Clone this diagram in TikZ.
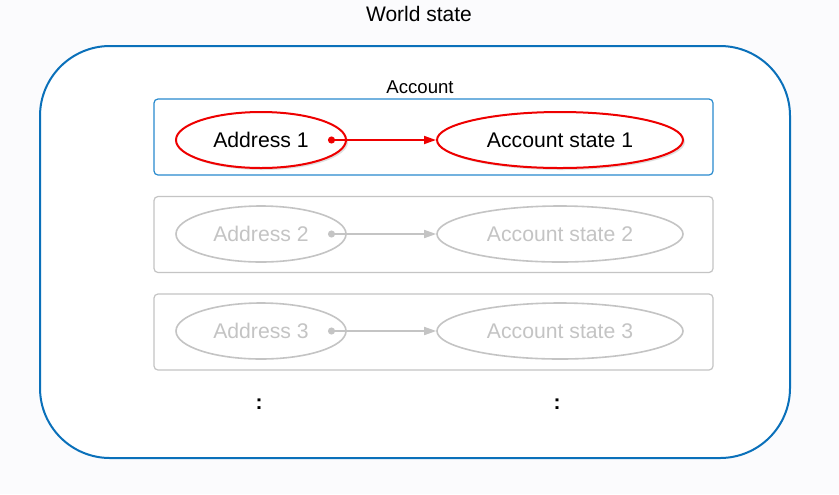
\documentclass[tikz,border=0pt]{standalone}
\usepackage{fontspec}
\setmainfont{Liberation Sans}
\usepackage{tikz}
\usetikzlibrary{arrows.meta}
\usetikzlibrary{shapes}
\usetikzlibrary{shadows}
\usetikzlibrary{positioning}
\definecolor{worldblue}{RGB}{10,112,186}
\definecolor{acctblue}{RGB}{40,138,206}
\definecolor{keyred}{RGB}{238,0,0}
\definecolor{fadegrey}{RGB}{196,196,196}
\definecolor{paper}{RGB}{251,251,253}

\tikzset{
  rowbox/.style={draw, rounded corners=2pt, minimum width=279.5pt, minimum height=38pt},
  addr/.style={ellipse, draw, minimum width=85pt, minimum height=28pt, inner xsep=0pt,
               font=\fontsize{10.6}{12}\selectfont},
  accstate/.style={ellipse, draw, minimum width=123pt, minimum height=28pt, inner xsep=0pt,
               font=\fontsize{10.6}{12}\selectfont},
  link/.style={{Circle[length=3.5pt]}-{Triangle[length=6pt,width=4pt]}},
}

\begin{document}
\begin{tikzpicture}[x=0.5pt, y=-0.5pt]
      \useasboundingbox (0,0) rectangle (839,494);
      \fill[paper] (0,0) rectangle (839,494);
      % world state
      \node[draw=worldblue, fill=white, line width=1pt, rounded corners=35pt,
            minimum width=375pt, minimum height=206pt] (world) at (415,252) {};
      \node[font=\fontsize{10.5}{12}\selectfont] (worldlbl) at (419,14) {World state};
      % account 1
      \node[rowbox, draw=acctblue, line width=0.6pt] (row1) at (433.5,137) {};
      \node[font=\fontsize{9.3}{11}\selectfont] (acctlbl) at (420,87) {Account};
      \node[addr, draw=keyred, line width=1pt, fill=white,
            drop shadow={shadow xshift=1pt, shadow yshift=-1pt, opacity=0.25}] (a1) at (261,140) {Address 1\hspace{3pt}};
      \node[accstate, draw=keyred, line width=1pt, fill=white,
            drop shadow={shadow xshift=1pt, shadow yshift=-1pt, opacity=0.25}] (s1) at (560,140) {Account state 1\hspace{3pt}};
      \coordinate (d1) at ([xshift=33.5pt]a1.center);
      \draw[link, keyred, line width=0.9pt] (d1) -- (s1);
      % account 2
      \node[rowbox, draw=fadegrey, line width=0.6pt] (row2) at (433.5,234.5) {};
      \node[addr, draw=fadegrey, text=fadegrey, line width=0.8pt] (a2) at (261,234) {Address 2\hspace{3pt}};
      \node[accstate, draw=fadegrey, text=fadegrey, line width=0.8pt] (s2) at (560,234) {Account state 2\hspace{3pt}};
      \coordinate (d2) at ([xshift=33.5pt]a2.center);
      \draw[link, fadegrey, line width=0.8pt] (d2) -- (s2);
      % account 3
      \node[rowbox, draw=fadegrey, line width=0.6pt] (row3) at (433.5,332) {};
      \node[addr, draw=fadegrey, text=fadegrey, line width=0.8pt] (a3) at (261,331) {Address 3\hspace{3pt}};
      \node[accstate, draw=fadegrey, text=fadegrey, line width=0.8pt] (s3) at (560,331) {Account state 3\hspace{3pt}};
      \coordinate (d3) at ([xshift=33.5pt]a3.center);
      \draw[link, fadegrey, line width=0.8pt] (d3) -- (s3);
      % more
      \node[font=\fontsize{10.5}{12}\bfseries] (more1) at (259,404) {:};
      \node[font=\fontsize{10.5}{12}\bfseries] (more2) at (557,404) {:};
    \end{tikzpicture}
\end{document}
